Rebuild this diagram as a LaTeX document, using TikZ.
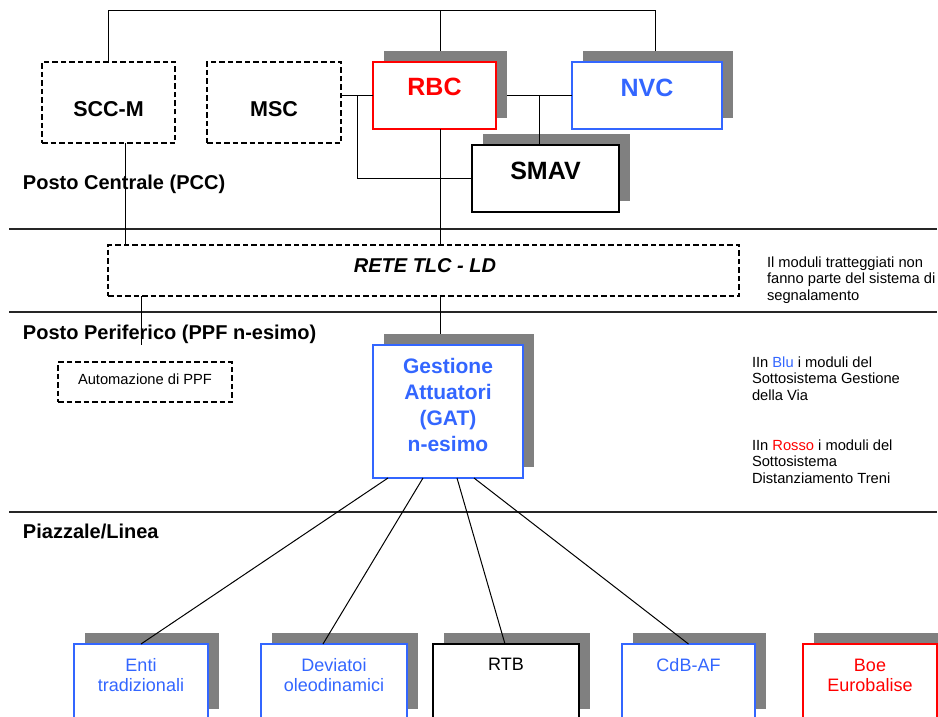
\documentclass[tikz,border=0pt]{standalone}
\usepackage{fontspec}
\setmainfont{Liberation Sans}
\usetikzlibrary{calc,shadows}
\definecolor{sigblue}{RGB}{51,102,255}
\definecolor{sigred}{RGB}{255,0,0}
\definecolor{shade}{RGB}{128,128,128}
\newcommand\fsz[2]{\fontsize{#1}{#2}\selectfont}

\begin{document}
\begin{tikzpicture}[x=1pt,y=-1pt,
  box/.style={draw, fill=white, inner sep=0pt, outer sep=0pt, line width=2.8pt},
  dashbox/.style={box, line width=2.4pt, dash pattern=on 5.5pt off 3pt},
  leafbox/.style={box, line width=2.4pt},
  shad/.style={drop shadow={shadow xshift=11pt,shadow yshift=11pt,fill=shade,opacity=1}},
  wire/.style={line width=1pt},
  sepline/.style={line width=1.2pt, draw=black!85},
  lbl/.style={inner sep=0pt, outer sep=0pt, anchor=base, align=center},
  bigtxt/.style={font=\fsz{25}{30}\bfseries},
  midtxt/.style={font=\fsz{21.5}{26}\bfseries},
  sectxt/.style={lbl, anchor=base west, font=\fsz{20}{24}\bfseries},
  leaftxt/.style={lbl, font=\fsz{18}{20}},
  notetxt/.style={lbl, anchor=base west, align=left, font=\fsz{14.7}{16.5}},
]
\useasboundingbox (0,0) rectangle (938,717);
\clip (0,0) rectangle (938,717);

% level separators
\draw[sepline] (9,229) -- (937,229);
\draw[sepline] (9,312) -- (937,312);
\draw[sepline] (9,512) -- (937,512);

% central post
\node[dashbox, minimum width=133, minimum height=81] (sccm) at (108.5,102.5) {};
\node[dashbox, minimum width=134, minimum height=81] (msc) at (274,102.5) {};
\node[box, shad, draw=sigred, minimum width=123, minimum height=67] (rbc) at (434.5,95.5) {};
\node[box, shad, draw=sigblue, minimum width=150, minimum height=67] (nvc) at (647,95.5) {};
\node[box, shad, minimum width=147, minimum height=67] (smav) at (545.5,178.5) {};

\node[lbl, midtxt] at ($(sccm.north)+(0,55)$) {SCC-M};
\node[lbl, midtxt] at ($(msc.north)+(0,55)$) {MSC};
\node[lbl, bigtxt, text=sigred] at ($(rbc.north)+(0,33.5)$) {RBC};
\node[lbl, bigtxt, text=sigblue] at ($(nvc.north)+(0,34)$) {NVC};
\node[lbl, bigtxt] at ($(smav.north)+(0,34)$) {SMAV};

% network
\node[dashbox, minimum width=631, minimum height=51] (rete) at (423.5,270.5) {};
\node[lbl, font=\fsz{20}{24}\bfseries\itshape] at ($(rete.north)+(1.5,27)$) {RETE TLC - LD};

% peripheral post (multi-line labels sit on the baseline of their last line)
\node[dashbox, minimum width=174, minimum height=40] (auto) at (145,382) {};
\node[lbl, font=\fsz{14.7}{17}] at ($(auto.north)+(0,22)$) {Automazione di PPF};
\node[box, shad, draw=sigblue, minimum width=150, minimum height=133] (gat) at (448,411.5) {};
\node[lbl, font=\fsz{21}{25.7}\bfseries, text=sigblue] at ($(gat.north)+(0,106)$)
  {Gestione\\Attuatori\\(GAT)\\n-esimo};

% field devices
\node[leafbox, shad, draw=sigblue, minimum width=134, minimum height=76] (enti) at (141,682) {};
\node[leafbox, shad, draw=sigblue, minimum width=146, minimum height=76] (dev) at (334,682) {};
\node[box, shad, minimum width=146, minimum height=76] (rtb) at (506,682) {};
\node[leafbox, shad, draw=sigblue, minimum width=133, minimum height=76] (cdb) at (688.5,682) {};
\node[leafbox, shad, draw=sigred, minimum width=134, minimum height=76] (boe) at (870,682) {};

\node[leaftxt, text=sigblue] at ($(enti.north)+(0,47)$) {Enti\\tradizionali};
\node[leaftxt, text=sigblue] at ($(dev.north)+(0,47)$) {Deviatoi\\oleodinamici};
\node[leaftxt] at ($(rtb.north)+(0,26)$) {RTB};
\node[leaftxt, text=sigblue] at ($(cdb.north)+(0,27)$) {CdB-AF};
\node[leaftxt, text=sigred] at ($(boe.north)+(0,47)$) {Boe\\Eurobalise};

% level titles and notes
\node[sectxt] (pcc) at (23,189) {Posto Centrale (PCC)};
\node[sectxt] (ppf) at (23,339) {Posto Periferico (PPF n-esimo)};
\node[sectxt] (pl) at (23,538) {Piazzale/Linea};

\node[notetxt] (note1) at (767,300) {Il moduli tratteggiati non\\fanno parte del sistema di\\segnalamento};
\node[notetxt] (note2) at (752,400) {IIn \textcolor{sigblue}{Blu} i moduli del\\Sottosistema Gestione\\della Via};
\node[notetxt] (note3) at (752,483) {IIn \textcolor{sigred}{Rosso} i moduli del\\Sottosistema\\Distanziamento Treni};

% connectors
\coordinate (bus) at (440,11);
\coordinate (msctap) at (357,95.5);
\coordinate (nvctap) at (539,95.5);
\coordinate (stub) at (141.5,345);

\draw[wire] (sccm.north) -- (sccm.north |- bus) -| ($(nvc.north)+(8,-11)$);
\draw[wire] (bus) -- ($(bus |- rbc.north)+(0,-11)$);
\draw[wire] (rbc.west -| msc.east) -- (rbc.west);
\draw[wire] (msctap) |- (smav.west);
\draw[wire] ($(rbc.east)+(11,0)$) -- (nvc.west);
\draw[wire] (nvctap) -- (nvctap |- smav.north);
\draw[wire] (bus |- rbc.south) -- (bus |- rete.north);
\draw[wire] ($(sccm.south)+(16.5,0)$) coordinate (sdrop) -- (sdrop |- rete.north);
\draw[wire] (bus |- rete.south) -- ($(bus |- gat.north)+(0,-11)$);
\draw[wire] (stub |- rete.south) -- (stub);

\draw[wire] ($(gat.south)+(-60,0)$) -- (enti.north);
\draw[wire] ($(gat.south)+(-25,0)$) -- ($(dev.north)+(-11,0)$);
\draw[wire] ($(gat.south)+(9,0)$) -- ($(rtb.north)+(-1,0)$);
\draw[wire] ($(gat.south)+(26,0)$) -- (cdb.north);
\end{tikzpicture}
\end{document}
